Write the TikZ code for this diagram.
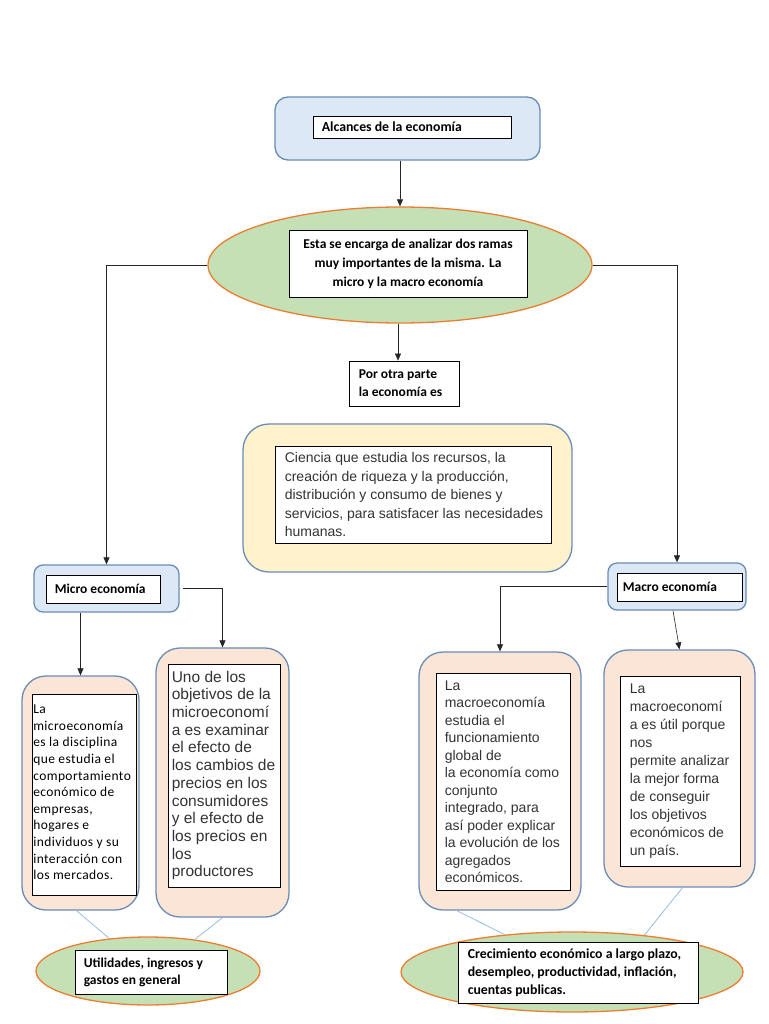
\documentclass[tikz,border=0pt]{standalone}
\usepackage{fontspec}
\setmainfont{Liberation Sans}
\newfontfamily\calib{Carlito}
\newfontfamily\calibw[LetterSpace=3]{Carlito}
\usetikzlibrary{shapes.geometric,arrows.meta}
\definecolor{lblue}{HTML}{DCE8F6}
\definecolor{bblue}{HTML}{6A8DB5}
\definecolor{lpink}{HTML}{FBE5D6}
\definecolor{lyel}{HTML}{FFF2CC}
\definecolor{lgreen}{HTML}{C5E0B4}
\definecolor{orng}{HTML}{ED7D31}
\definecolor{lline}{HTML}{8DB6E0}
\tikzset{
  bluebox/.style={draw=bblue, fill=lblue, line width=1.3pt, inner sep=0pt},
  pinkbox/.style={draw=bblue, fill=lpink, line width=1.3pt, rounded corners=24pt, inner sep=0pt},
  yelbox/.style={draw=bblue, fill=lyel, line width=1.3pt, rounded corners=26pt, inner sep=0pt},
  inbox/.style={draw=black, fill=white, line width=0.8pt, inner sep=0pt},
  greenell/.style={ellipse, draw=orng, fill=lgreen, line width=1.3pt, inner sep=0pt},
  arr/.style={-{Triangle[length=7pt,width=6pt]}, line width=0.6pt, draw=black!85},
  lb/.style={draw=lline, line width=0.7pt},
  btxt/.style={inner sep=0pt, font=\calib\bfseries\fontsize{13.8}{19}\selectfont},
  ctxt/.style={inner sep=0pt, font=\calibw\fontsize{13.5}{16.6}\selectfont},
  atxt/.style={inner sep=0pt, align=left},
}
\begin{document}
\begin{tikzpicture}[x=1pt,y=-1pt]
\useasboundingbox[fill=white] (0,0) rectangle (768,1024);

% top box
\node[bluebox, rounded corners=13pt, minimum width=265pt, minimum height=63pt] (top) at (407.5,128.5) {};
\node[inbox, minimum width=198pt, minimum height=22pt] (topin) at (412,127) {};
\node[btxt, anchor=west] (toptx) at ([xshift=9pt]topin.west) {Alcances de la economía};

% main ellipse
\node[greenell, minimum width=384pt, minimum height=116pt] (ell) at (400,265) {};
\node[inbox, minimum width=238pt, minimum height=67pt] (ellin) at (408,263.5) {};
\node[btxt, align=center, font=\calib\bfseries\fontsize{13.5}{19}\selectfont] (elltx) at (ellin.center) {Esta se encarga de analizar dos ramas\\muy importantes de la misma. La\\micro y la macro economía};

% por otra parte
\node[inbox, minimum width=110pt, minimum height=45pt] (por) at (404,383.5) {};
\node[btxt, anchor=west, align=left, font=\calib\bfseries\fontsize{13.5}{18}\selectfont] (portx) at ([xshift=10pt]por.west) {Por otra parte\\la economía es};

% yellow box
\node[yelbox, minimum width=329pt, minimum height=148pt] (yel) at (407.5,498) {};
\node[inbox, minimum width=276pt, minimum height=97pt] (yelin) at (413,494.5) {};
\node[atxt, anchor=west, font=\fontsize{14}{18.5}\selectfont, text=black!80] (yeltx) at ([xshift=10pt]yelin.west) {Ciencia que estudia los recursos, la\\creación de riqueza y la producción,\\distribución y consumo de bienes y\\servicios, para satisfacer las necesidades\\humanas.};

% micro box
\node[bluebox, rounded corners=9pt, minimum width=145pt, minimum height=47pt] (micro) at (106.5,588.5) {};
\node[inbox, minimum width=114pt, minimum height=28pt] (microin) at (103,589) {};
\node[btxt, anchor=west, font=\calib\bfseries\fontsize{13.5}{19}\selectfont] (microtx) at ([xshift=9pt]microin.west) {Micro economía};

% macro box
\node[bluebox, rounded corners=9pt, minimum width=138pt, minimum height=47pt] (macro) at (677,586.5) {};
\node[inbox, minimum width=125pt, minimum height=28pt] (macroin) at (679.5,587) {};
\node[btxt, anchor=west, font=\calib\bfseries\fontsize{13.5}{19}\selectfont] (macrotx) at ([xshift=6pt]macroin.west) {Macro economía};

% pink A
\node[pinkbox, minimum width=117pt, minimum height=234pt] (pinkA) at (80.5,793) {};
\node[inbox, minimum width=104pt, minimum height=201pt] (pinkAin) at (84,794.5) {};
\node[ctxt, anchor=west, align=left] (pinkAtx) at ([xshift=1.5pt,yshift=2pt]pinkAin.west) {La\\microeconomía\\es la disciplina\\que estudia el\\comportamiento\\económico de\\empresas,\\hogares e\\individuos y su\\interacción con\\los mercados.};

% pink B
\node[pinkbox, minimum width=133pt, minimum height=269pt] (pinkB) at (222.5,782.5) {};
\node[inbox, minimum width=112pt, minimum height=223pt] (pinkBin) at (224,775.5) {};
\node[atxt, anchor=west, font=\fontsize{15.5}{17.7}\selectfont, text=black!80] (pinkBtx) at ([xshift=4pt]pinkBin.west) {Uno de los\\objetivos de la\\microeconomí\\a es examinar\\el efecto de\\los cambios de\\precios en los\\consumidores\\y el efecto de\\los precios en\\los\\productores};

% macro 1
\node[pinkbox, minimum width=162pt, minimum height=258pt] (mac1) at (500,781) {};
\node[inbox, minimum width=134pt, minimum height=217pt] (mac1in) at (503,781.5) {};
\node[atxt, anchor=west, font=\fontsize{14}{17.5}\selectfont, text=black!80] (mac1tx) at ([xshift=9pt]mac1in.west) {La\\macroeconomía\\estudia el\\funcionamiento\\global de\\la economía como\\conjunto\\integrado, para\\así poder explicar\\la evolución de los\\agregados\\económicos.};

% macro 2
\node[pinkbox, minimum width=151pt, minimum height=237pt] (mac2) at (679.5,768.5) {};
\node[inbox, minimum width=120pt, minimum height=190pt] (mac2in) at (680,771) {};
\node[atxt, anchor=west, font=\fontsize{14}{18}\selectfont, text=black!80] (mac2tx) at ([xshift=10pt]mac2in.west) {La\\macroeconomí\\a es útil porque\\nos\\permite analizar\\la mejor forma\\de conseguir\\los objetivos\\económicos de\\un país.};

% bottom ellipses
\node[greenell, minimum width=224pt, minimum height=68pt] (util) at (148,971) {};
\node[inbox, minimum width=152pt, minimum height=44pt] (utilin) at (151,972) {};
\node[btxt, anchor=west, align=left, font=\calib\bfseries\fontsize{13.5}{17}\selectfont] (utiltx) at ([xshift=9pt]utilin.west) {Utilidades, ingresos y\\gastos en general};

\node[greenell, minimum width=342pt, minimum height=80pt] (crec) at (572,972) {};
\node[inbox, minimum width=240pt, minimum height=61pt] (crecin) at (578,972.5) {};
\node[btxt, anchor=west, align=left, font=\calib\bfseries\fontsize{13.8}{18}\selectfont] (crectx) at ([xshift=10pt]crecin.west) {Crecimiento económico a largo plazo,\\desempleo, productividad, inflación,\\cuentas publicas.};

% connectors
\draw[arr] (top.south -| ell.north) -- (ell.north);
\draw[arr] (ell.west) -| (micro.north);
\draw[arr] (ell.east) -| (macro.north);
\draw[arr] ([xshift=-2pt]ell.south) -- ([xshift=-2pt]ell.south |- por.north);
\draw[arr] ([xshift=3pt]micro.east) -| (pinkB.north);
\draw[arr] (micro.south -| pinkA.north) -- (pinkA.north);
\draw[arr] (macro.west) -| (mac1.north);
\draw[arr] ([xshift=-4pt]macro.south) -- (mac2.north);

\draw[lb] ([xshift=-4pt]pinkA.south) -- (util.140);
\draw[lb] (pinkB.south) -- (util.34);
\draw[lb] ([xshift=-43pt]mac1.south) -- (crec.151);
\draw[lb] ([xshift=3pt]mac2.south) -- (crec.27);
\end{tikzpicture}
\end{document}
